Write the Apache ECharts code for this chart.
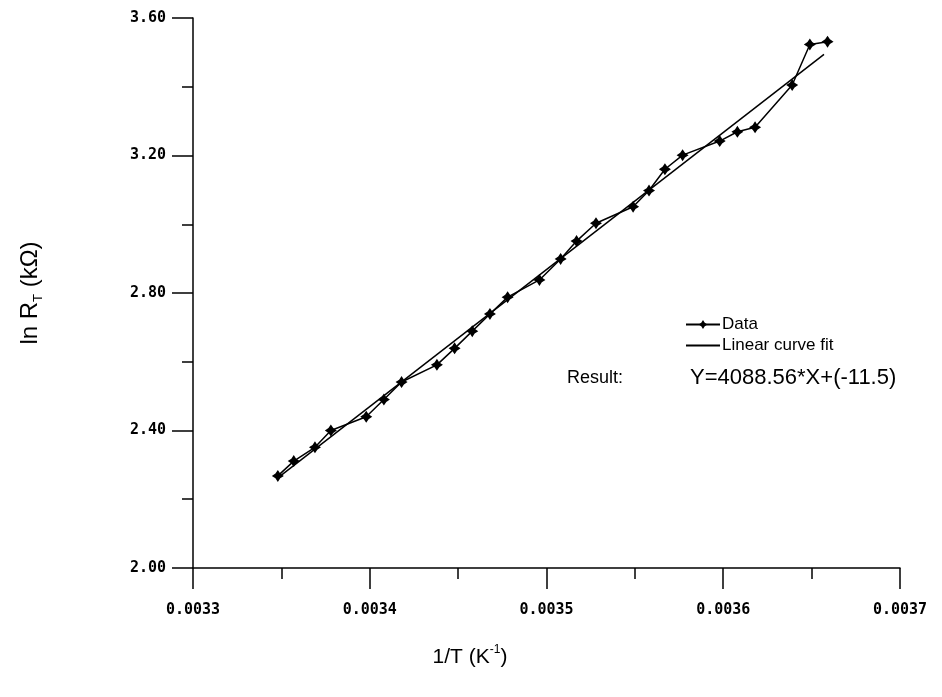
<!DOCTYPE html>
<html>
<head>
<meta charset="utf-8">
<script src="https://cdn.jsdelivr.net/npm/echarts@6/dist/echarts.min.js"></script>
<style>
  html, body { margin: 0; padding: 0; background: #fff; }
  #chart { width: 942px; height: 697px; }
</style>
</head>
<body>
<div id="chart"></div>
<script>
// ---- data ----
const invT = [0.003348, 0.003357, 0.003369, 0.003378, 0.003398, 0.003408, 0.003418,
              0.003438, 0.003448, 0.003458, 0.003468, 0.003478, 0.003496, 0.003508,
              0.003517, 0.003528, 0.003549, 0.003558, 0.003567, 0.003577, 0.003598,
              0.003608, 0.003618, 0.003639, 0.003649, 0.003659];
const lnR  = [2.268, 2.311, 2.351, 2.400, 2.440, 2.490, 2.541,
              2.591, 2.639, 2.689, 2.739, 2.788, 2.838, 2.899,
              2.951, 3.003, 3.051, 3.098, 3.160, 3.201, 3.242,
              3.269, 3.282, 3.405, 3.523, 3.531];
const fitX = [0.003348, 0.003657];
const fitY = [2.262, 3.494];
const xTicks = ['0.0033', '0.0034', '0.0035', '0.0036', '0.0037'];
const yTicks = ['2.00', '2.40', '2.80', '3.20', '3.60'];
const seriesNames = ['Data', 'Linear curve fit'];
const resultLabel = 'Result:';
const resultEq = 'Y=4088.56*X+(-11.5)';

const starPath = 'path://M5,0 L7,3 L10,5 L7,7 L5,10 L3,7 L0,5 L3,3 Z';
const tickFont = { fontFamily: 'DejaVu Sans Mono', fontSize: 15, fontWeight: 'bold', color: '#000' };

const chart = echarts.init(document.getElementById('chart'), null, { renderer: 'canvas' });
chart.setOption({
  animation: false,
  backgroundColor: '#fff',
  grid: { left: 193, right: 42, top: 18, bottom: 129 },
  xAxis: {
    type: 'value', min: 0.0033, max: 0.0037, interval: 0.0001,
    axisLine: { show: true, onZero: false, lineStyle: { color: '#000', width: 1.5 } },
    axisTick: { show: true, inside: false, length: 21, lineStyle: { color: '#000', width: 1.5 } },
    minorTick: { show: true, splitNumber: 2, length: 11, lineStyle: { color: '#000', width: 1.5 } },
    splitLine: { show: false },
    axisLabel: Object.assign({ margin: 35, formatter: v => xTicks[Math.round((v - 0.0033) / 0.0001)] }, tickFont)
  },
  yAxis: {
    type: 'value', min: 2, max: 3.6, interval: 0.4,
    axisLine: { show: true, onZero: false, lineStyle: { color: '#000', width: 1.5 } },
    axisTick: { show: true, inside: false, length: 21, lineStyle: { color: '#000', width: 1.5 } },
    minorTick: { show: true, splitNumber: 2, length: 11, lineStyle: { color: '#000', width: 1.5 } },
    splitLine: { show: false },
    axisLabel: Object.assign({ margin: 27, formatter: v => yTicks[Math.round((v - 2) / 0.4)] }, tickFont)
  },
  legend: {
    data: [{ name: seriesNames[0] }, { name: seriesNames[1], itemStyle: { opacity: 0 } }],
    orient: 'vertical', left: 680, top: 311,
    itemWidth: 34, itemHeight: 11, itemGap: 4,
    textStyle: { fontFamily: 'Liberation Sans', fontSize: 17, color: '#000', padding: [0, 0, 0, -3] }
  },
  series: [
    {
      name: seriesNames[0], type: 'line',
      data: invT.map((x, i) => [x, lnR[i]]),
      symbol: starPath, symbolSize: 12, showAllSymbol: true,
      itemStyle: { color: '#000' },
      lineStyle: { color: '#000', width: 1.5 }
    },
    {
      name: seriesNames[1], type: 'line',
      data: fitX.map((x, i) => [x, fitY[i]]),
      symbol: 'none', showSymbol: false,
      itemStyle: { color: '#000' },
      lineStyle: { color: '#000', width: 1.5 }
    }
  ],
  graphic: [
    { type: 'text', left: 567, top: 369,
      style: { text: resultLabel, font: '18px "Liberation Sans"', fill: '#000' } },
    { type: 'text', left: 690, top: 367,
      style: { text: resultEq, font: '22px "Liberation Sans"', fill: '#000' } },
    { type: 'text', x: 30, y: 293, rotation: Math.PI / 2,
      style: {
        text: '{n|ln R}{s|T}{n| (kΩ)}', align: 'center', verticalAlign: 'middle',
        rich: {
          n: { fontFamily: 'Liberation Sans', fontSize: 24, fill: '#000', color: '#000', lineHeight: 30 },
          s: { fontFamily: 'Liberation Sans', fontSize: 13, fill: '#000', color: '#000', lineHeight: 30, verticalAlign: 'bottom' }
        }
      } },
    { type: 'text', x: 470, y: 657,
      style: {
        text: '{n|1/T (K}{s|-1}{n|)}', align: 'center', verticalAlign: 'middle',
        rich: {
          n: { fontFamily: 'Liberation Sans', fontSize: 21, fill: '#000', color: '#000', lineHeight: 26 },
          s: { fontFamily: 'Liberation Sans', fontSize: 12, fill: '#000', color: '#000', lineHeight: 26, verticalAlign: 'top' }
        }
      } }
  ]
});
</script>
</body>
</html>
